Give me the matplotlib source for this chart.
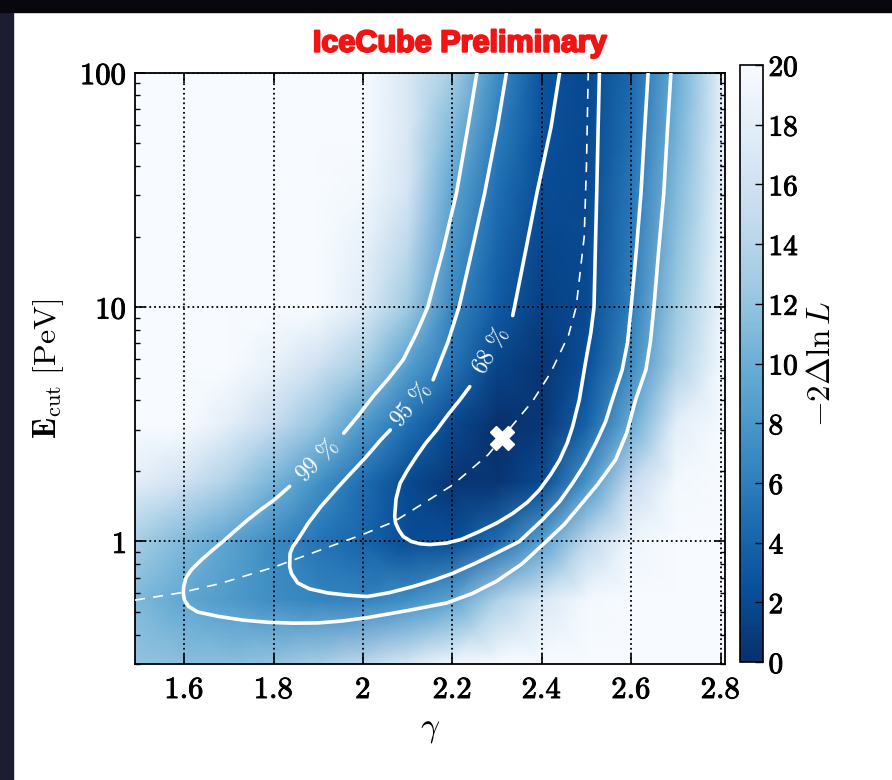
import numpy as np
import matplotlib
matplotlib.use('Agg')
import matplotlib.pyplot as plt
import matplotlib.patheffects as pe
from matplotlib.patches import Rectangle

plt.rcParams['mathtext.fontset'] = 'cm'

# -2 delta lnL table (rows: E_cut nodes, columns: gamma nodes)
gamma_nodes = [1.49, 1.6, 1.7, 1.8, 1.9, 2.0, 2.1, 2.2, 2.3, 2.4, 2.5, 2.6, 2.7, 2.81]
ecut_nodes = [0.3, 0.562, 1.0, 1.78, 3.16, 5.62, 10.0, 17.8, 31.6, 56.2, 100.0]
ts_table = [
    [12, 11.5, 11.5, 12, 13, 14.5, 17, 19.5, 20, 20, 20, 20, 20, 20],
    [11, 9.3, 8.3, 7.2, 6.5, 6.4, 7.3, 9.1, 13.5, 17, 19.5, 20, 20, 20],
    [13, 11, 9.0, 7.0, 5.3, 4.0, 2.25, 2.3, 4.8, 8.7, 14.5, 19, 20, 20],
    [18, 16, 13.5, 10.5, 7.5, 4.7, 2.0, 0.5, 0.4, 2.1, 7.8, 15, 19.5, 20],
    [20, 20, 18, 15, 12, 8.3, 5.0, 1.9, 0.15, 0.6, 3.9, 9.7, 18, 20],
    [20, 20, 20, 18.5, 16, 13, 8.7, 5.3, 1.6, 0.45, 2.4, 7.1, 13.5, 20],
    [20, 20, 20, 20, 20, 17.5, 12.5, 6.7, 3.3, 1.2, 2.0, 6.0, 12.3, 19.5],
    [20, 20, 20, 20, 20, 18.5, 14.5, 8, 4.1, 1.7, 1.9, 5.7, 11.6, 19.3],
    [20, 20, 20, 20, 20, 19.5, 16.5, 9.2, 4.9, 2.2, 1.8, 5.4, 11, 19],
    [20, 20, 20, 20, 20, 20, 17, 11, 6, 2.5, 1.85, 4.8, 10.3, 19],
    [20, 20, 20, 20, 20, 20, 17, 13, 7.2, 2.8, 1.9, 4.3, 9.7, 19],
]

# confidence contours, each split in two pieces around its label
c68_top_g = [2.440, 2.421, 2.389, 2.365, 2.339, 2.335]
c68_top_e = [100, 58.9, 30.5, 17.8, 10, 9.2]
c68_g = [2.239, 2.217, 2.190, 2.165, 2.140, 2.120, 2.100, 2.083, 2.074, 2.071, 2.073, 2.080,
         2.090, 2.108, 2.128, 2.150, 2.187, 2.220, 2.261, 2.300, 2.336, 2.368, 2.395, 2.420,
         2.440, 2.457, 2.469, 2.484, 2.499, 2.510, 2.517, 2.520, 2.523, 2.526, 2.529]
c68_e = [4.58, 4.02, 3.47, 2.99, 2.62, 2.31, 2.02, 1.77, 1.52, 1.28, 1.20, 1.12,
         1.05, 1.0, 0.977, 0.970, 0.984, 1.02, 1.104, 1.20, 1.321, 1.47, 1.66, 1.93,
         2.228, 2.63, 3.09, 4.02, 5.96, 7.8, 10, 17.8, 30.5, 56.2, 100]

c95_top_g = [2.321, 2.301, 2.272, 2.245, 2.215, 2.190, 2.157]
c95_top_e = [100, 58.9, 30.5, 17.8, 10, 7.08, 4.9]
c95_g = [2.061, 2.040, 2.020, 2.001, 1.966, 1.935, 1.906, 1.878, 1.854, 1.843, 1.837, 1.836,
         1.840, 1.854, 1.880, 1.921, 1.965, 2.010, 2.060, 2.113, 2.160, 2.202, 2.250, 2.298,
         2.350, 2.402, 2.440, 2.469, 2.497, 2.521, 2.543, 2.558, 2.580, 2.592, 2.600, 2.612,
         2.622, 2.630, 2.638]
c95_e = [2.99, 2.716, 2.45, 2.228, 1.892, 1.63, 1.41, 1.20, 1.016, 0.95, 0.89, 0.782,
         0.73, 0.665, 0.628, 0.603, 0.590, 0.582, 0.605, 0.643, 0.685, 0.733, 0.805, 0.891,
         1.0, 1.239, 1.48, 1.774, 2.15, 2.63, 3.25, 4.02, 5.395, 7.08, 10, 17.8,
         30.5, 56.2, 100]

c99_top_g = [2.255, 2.235, 2.209, 2.180, 2.145, 2.120, 2.090, 2.057, 2.023, 1.990, 1.957]
c99_top_e = [100, 58.9, 30.5, 17.8, 10, 7.76, 5.96, 4.95, 4.17, 3.45, 2.897]
c99_g = [1.836, 1.802, 1.772, 1.743, 1.716, 1.691, 1.664, 1.639, 1.617, 1.604, 1.599, 1.598,
         1.601, 1.610, 1.630, 1.676, 1.730, 1.787, 1.843, 1.899, 1.955, 2.010, 2.100, 2.187,
         2.245, 2.298, 2.355, 2.410, 2.450, 2.484, 2.525, 2.565, 2.590, 2.610, 2.633, 2.643,
         2.651, 2.662, 2.673, 2.681, 2.689]
c99_e = [1.718, 1.507, 1.37, 1.239, 1.12, 1.016, 0.92, 0.836, 0.76, 0.70, 0.643, 0.60,
         0.56, 0.528, 0.50, 0.479, 0.462, 0.452, 0.448, 0.449, 0.458, 0.473, 0.507, 0.546,
         0.60, 0.675, 0.80, 1.0, 1.18, 1.41, 1.75, 2.228, 2.9, 4.02, 5.395, 7.08,
         10, 17.8, 30.5, 56.2, 100]

# best E_cut for each gamma (dashed) and best fit point
prof_g = [1.49, 1.59, 1.68, 1.80, 1.90, 2.00, 2.07, 2.20, 2.28, 2.38, 2.42, 2.46, 2.477, 2.495, 2.50, 2.504]
prof_e = [0.562, 0.603, 0.661, 0.776, 0.912, 1.072, 1.216, 1.738, 2.344, 3.98, 5.25, 7.59, 10, 19.95, 39.8, 100]
best_g, best_e = 2.31, 2.75

labels = ['68', '95', '99']
label_pos = [(2.287, 6.5), (2.107, 3.83), (1.897, 2.23)]
label_rot = [59, 50, 45]

xticks = [1.6, 1.8, 2.0, 2.2, 2.4, 2.6, 2.8]
xticklabels = ['1.6', '1.8', '2', '2.2', '2.4', '2.6', '2.8']
yticks = [1, 10, 100]
yticklabels = ['1', '10', '100']
cticks = list(range(0, 21, 2))

fig = plt.figure(figsize=(8.92, 7.80), dpi=100)
fig.patch.set_facecolor('white')
# slide frame
fig.patches.append(Rectangle((0, 0), 13 / 892, 1, transform=fig.transFigure,
                             color='#1d1d30', zorder=0))
fig.patches.append(Rectangle((0, 1 - 12 / 780), 1, 12 / 780, transform=fig.transFigure,
                             color='#07070d', zorder=0))

ax = fig.add_axes([135 / 892, 1 - 664 / 780, 590 / 892, 591.3 / 780])
cax = fig.add_axes([740 / 892, 1 - 662 / 780, 23 / 892, 597 / 780])

mesh = ax.pcolormesh(gamma_nodes, ecut_nodes, np.array(ts_table), shading='gouraud',
                     cmap='Blues_r', vmin=0, vmax=20, zorder=1)
ax.set_yscale('log')
ax.set_xlim(1.49, 2.81)
ax.set_ylim(0.3, 100)

ax.grid(True, which='major', color='black', linestyle=':', linewidth=1.3, zorder=2)
ax.set_axisbelow(False)

lw = 2.6
for g, e in [(c68_top_g, c68_top_e), (c68_g, c68_e), (c95_top_g, c95_top_e),
             (c95_g, c95_e), (c99_top_g, c99_top_e), (c99_g, c99_e)]:
    ax.plot(g, e, color='white', lw=lw, solid_capstyle='round', solid_joinstyle='round', zorder=4)

ax.plot(prof_g, prof_e, color='white', lw=1.2, dashes=(6, 5), zorder=4)
ax.plot([best_g], [best_e], marker='X', color='white', markersize=17,
        markeredgecolor='white', zorder=5)

for num, (gx, ey), rot in zip(labels, label_pos, label_rot):
    ax.text(gx, ey, r'$\mathbf{%s\ \%%}$' % num, color='white', fontsize=17,
            rotation=rot, rotation_mode='anchor', ha='center', va='center', zorder=5)

bold = [pe.withStroke(linewidth=0.7, foreground='black')]
ax.set_xticks(xticks)
ax.set_xticklabels([r'$\mathbf{%s}$' % t for t in xticklabels])
ax.set_yticks(yticks)
ax.set_yticklabels([r'$\mathbf{%s}$' % t for t in yticklabels])
for t in ax.get_xticklabels() + ax.get_yticklabels():
    t.set_path_effects(bold)
ax.tick_params(which='both', direction='in', top=True, right=True, labelsize=22)
ax.tick_params(which='major', length=7, width=1.2)
ax.tick_params(which='minor', length=3.5, width=1)
ax.tick_params(axis='x', pad=8)
ax.tick_params(axis='y', pad=6)
for s in ax.spines.values():
    s.set_linewidth(1.3)

ax.set_xlabel(r'$\gamma$', fontsize=24, labelpad=6)
ax.set_ylabel(r'$\mathbf{E}_{\mathrm{cut}}\ [\mathrm{PeV}]$', fontsize=23, labelpad=10)

cb = fig.colorbar(mesh, cax=cax, ticks=cticks)
cb.ax.set_yticklabels([r'$\mathbf{%d}$' % t for t in cticks])
for t in cb.ax.get_yticklabels():
    t.set_path_effects(bold)
cb.ax.tick_params(direction='in', length=6, width=1, labelsize=21, pad=4)
cb.outline.set_linewidth(1.2)
cb.set_label(r'$-2\Delta\ln L$', fontsize=24, labelpad=4)

fig.text(0.515, 0.944, 'IceCube Preliminary', color='#f01414', fontsize=22,
         fontweight='bold', family='Liberation Sans', ha='center', va='center',
         path_effects=[pe.withStroke(linewidth=1.5, foreground='#f01414')])

fig.savefig('out.png', dpi=100, facecolor=fig.get_facecolor())
